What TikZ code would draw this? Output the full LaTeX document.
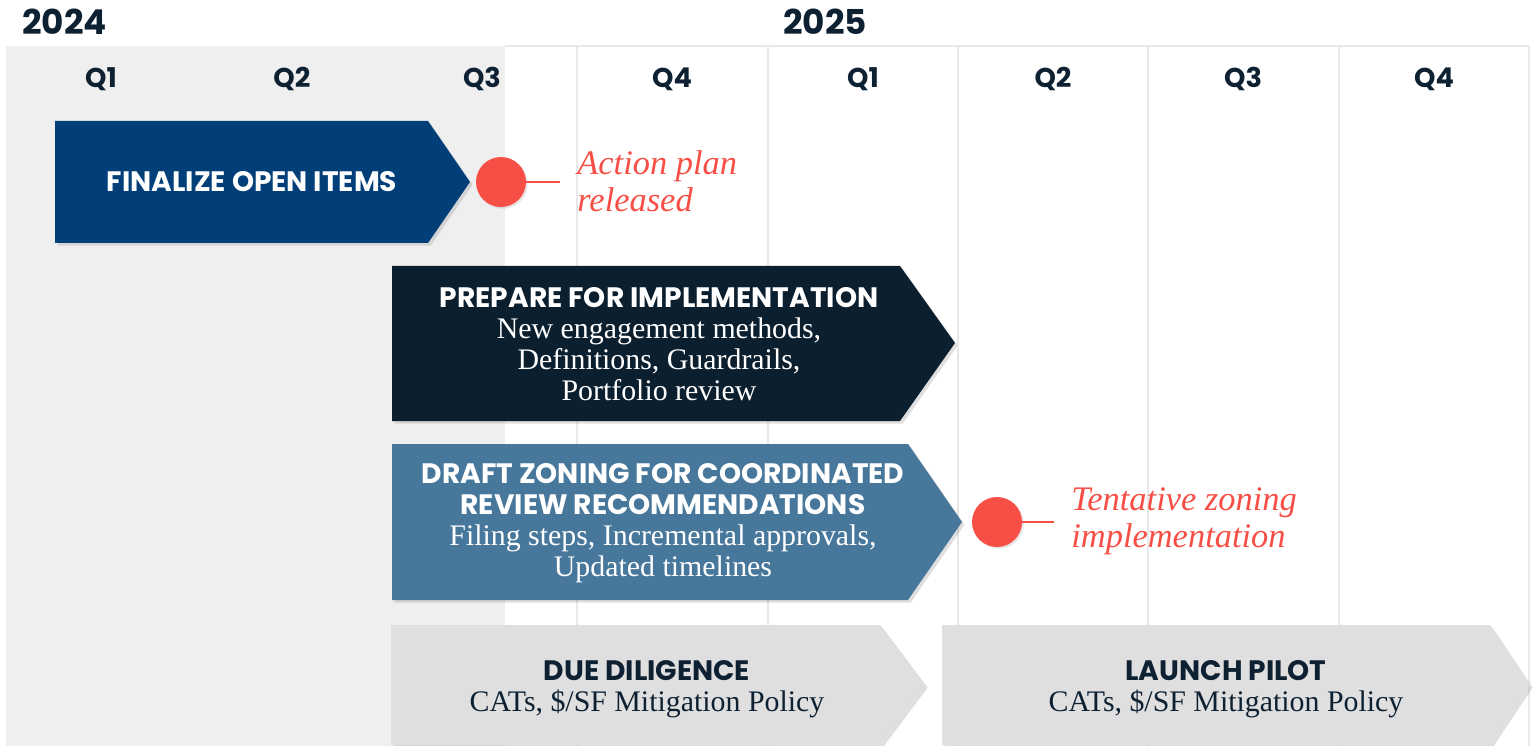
\documentclass[tikz,border=0pt]{standalone}
\usepackage{fontspec}
\setmainfont{Liberation Serif}
\newfontfamily\headfont{Poppins}
\usetikzlibrary{shadows}
\definecolor{ink}{RGB}{14,33,50}
\definecolor{navy}{RGB}{2,63,121}
\definecolor{midnight}{RGB}{12,31,47}
\definecolor{steel}{RGB}{72,119,156}
\definecolor{pale}{RGB}{223,223,224}
\definecolor{pastgray}{RGB}{239,239,239}
\definecolor{rule}{RGB}{232,232,232}
\definecolor{alert}{RGB}{247,79,69}
\tikzset{
    year/.style={font=\headfont\bfseries\fontsize{19.5}{22}\selectfont, text=ink, anchor=west, inner sep=0pt},
    quarter/.style={font=\headfont\bfseries\fontsize{15.5}{18}\selectfont, text=ink},
    gridline/.style={draw=rule, line width=1pt},
    phase/.style={drop shadow={opacity=0.25, shadow xshift=1.5pt, shadow yshift=-1.5pt}},
    phasetext/.style={align=center, font=\fontsize{17}{17.6}\selectfont, inner sep=0pt},
    milestone/.style={circle, fill=alert, minimum size=1cm, inner sep=0pt,
        drop shadow={opacity=0.2, shadow xshift=1pt, shadow yshift=-1pt}},
    marker/.style={draw=alert, line width=1.6pt},
    note/.style={anchor=west, align=left, text=alert, inner sep=0pt,
        font=\itshape\fontsize{19.6}{21}\selectfont},
}
\newcommand{\ttl}{\headfont\bfseries\fontsize{16}{17.6}\selectfont}

\begin{document}
\begin{tikzpicture}[x=0.02cm, y=-0.02cm]
	\useasboundingbox (0,0) rectangle (1538,746);
	% background and quarter grid
	\fill[pastgray] (6,46) rectangle (505,746);
	\draw[gridline] (505,46) -- (1529,46);
	\foreach \x in {577,768,958,1148,1339,1529}
		\draw[gridline] (\x,46) -- (\x,746);
	\node[year] (y2024) at (22,22) {2024};
	\node[year] (y2025) at (783,22) {2025};
	\foreach \q/\x [count=\i] in {Q1/101,Q2/292,Q3/482,Q4/672,Q1/863,Q2/1053,Q3/1243,Q4/1434}
		\node[quarter] (q\i) at (\x,79) {\q};

	% phases
	\fill[navy, phase] (55,121) -- (428,121) -- (470,182) -- (428,243) -- (55,243) -- cycle;
	\node[phasetext, text=white] (finalize) at (252,182) {\ttl FINALIZE OPEN ITEMS};

	\fill[midnight, phase] (392,266) -- (900,266) -- (955,343) -- (900,421) -- (392,421) -- cycle;
	\node[phasetext, text=white] (prepare) at (659,344)
		{{\ttl PREPARE FOR IMPLEMENTATION}\\New engagement methods,\\Definitions, Guardrails,\\Portfolio review};

	\fill[steel, phase] (392,444) -- (908,444) -- (962,522) -- (908,600) -- (392,600) -- cycle;
	\node[phasetext, text=white] (draft) at (663,523)
		{{\ttl DRAFT ZONING FOR COORDINATED}\\{\ttl REVIEW RECOMMENDATIONS}\\Filing steps, Incremental approvals,\\Updated timelines};

	\fill[pale, phase] (391,625) -- (880,625) -- (925,685) -- (880,745) -- (391,745) -- cycle;
	\node[phasetext, text=ink] (diligence) at (647,689)
		{{\ttl DUE DILIGENCE}\\CATs, \$/SF Mitigation Policy};

	\fill[pale, phase] (942,625) -- (1490,625) -- (1530,685) -- (1490,745) -- (942,745) -- cycle;
	\node[phasetext, text=ink] (pilot) at (1226,689)
		{{\ttl LAUNCH PILOT}\\CATs, \$/SF Mitigation Policy};

	% milestones
	\node[milestone] (dot1) at (501,182) {};
	\coordinate (tick1) at (560,182);
	\draw[marker] (dot1) -- (tick1);
	\node[note] (action) at (577,181) {Action plan\\released};

	\node[milestone] (dot2) at (997,522) {};
	\coordinate (tick2) at (1054,522);
	\draw[marker] (dot2) -- (tick2);
	\node[note] (tentative) at (1071,521) {Tentative zoning\\implementation};
\end{tikzpicture}
\end{document}
